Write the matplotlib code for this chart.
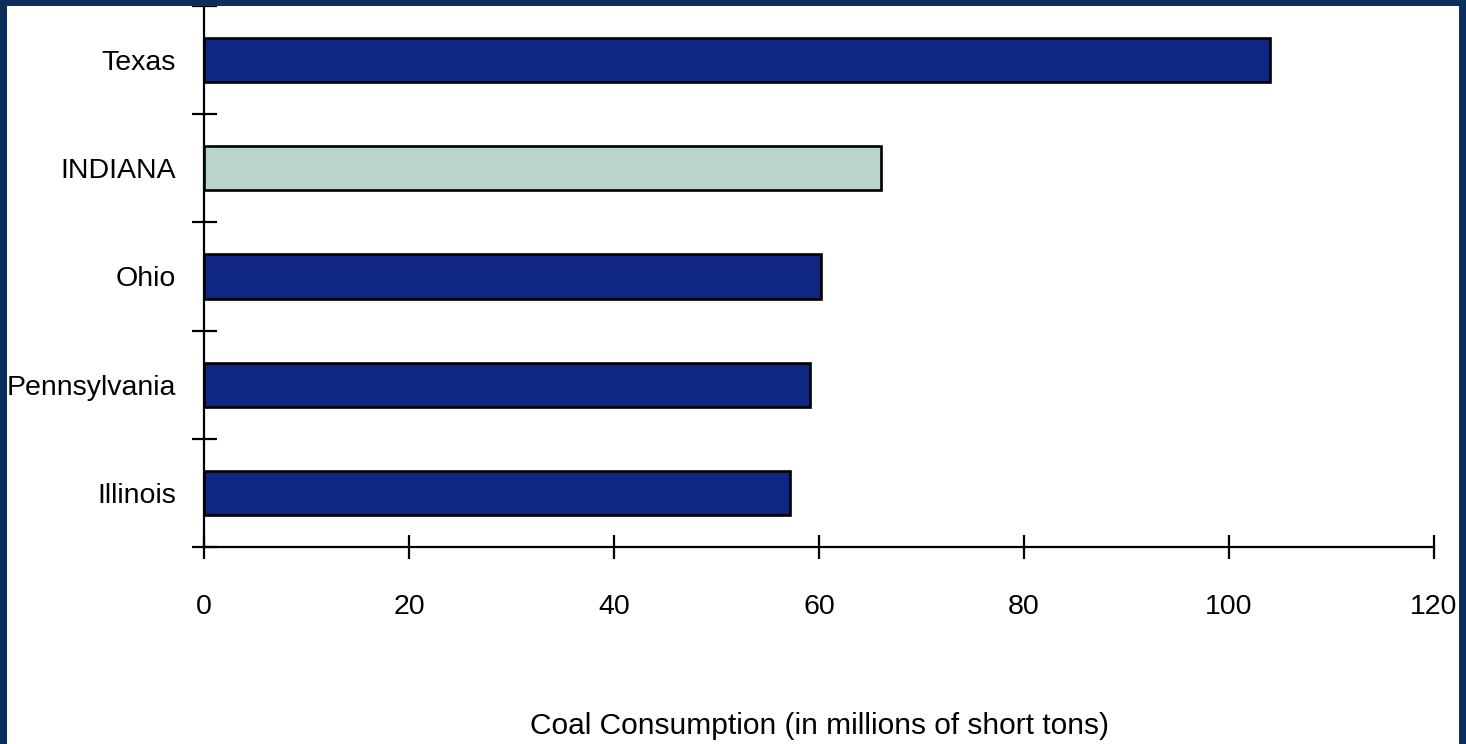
import matplotlib
matplotlib.use("Agg")
import matplotlib.pyplot as plt
from matplotlib.patches import Rectangle
import numpy as np

plt.rcParams['font.family'] = ['Liberation Sans Narrow', 'Liberation Sans', 'DejaVu Sans']

# coal consumption by state, millions of short tons (top to bottom)
states = ['Texas', 'INDIANA', 'Ohio', 'Pennsylvania', 'Illinois']
consumption = [104.0, 66.0, 60.2, 59.1, 57.2]
highlight = 'INDIANA'
x_ticks = [0, 20, 40, 60, 80, 100, 120]

navy = '#0f2683'
mint = '#b9d5c9'
frame = '#0b2f5a'

fig = plt.figure(figsize=(14.66, 7.44), dpi=100)
fig.patch.set_facecolor('white')

# dark frame on left, top and right
for rect in [(0, 0, 7 / 1466, 1), (1459 / 1466, 0, 7 / 1466, 1), (0, 1 - 6 / 744, 1, 6 / 744)]:
    fig.add_artist(Rectangle(rect[:2], rect[2], rect[3], transform=fig.transFigure,
                             facecolor=frame, edgecolor='none', zorder=10))

ax = fig.add_axes([204 / 1466, 1 - 547 / 744, 1230 / 1466, 541 / 744])

ypos = np.arange(len(states))
colors = [mint if s == highlight else navy for s in states]
ax.barh(ypos, consumption, height=0.41, color=colors, edgecolor='black',
        linewidth=1.9, zorder=3)

ax.set_xlim(0, 120)
ax.set_ylim(len(states) - 0.5, -0.5)

for side in ['top', 'right']:
    ax.spines[side].set_visible(False)
for side in ['left', 'bottom']:
    ax.spines[side].set_linewidth(1.6)
    ax.spines[side].set_color('black')

# category boundary ticks on y, labels centred on bars
ax.set_yticks(np.arange(-0.5, len(states), 1.0))
ax.set_yticklabels([])
ax.set_yticks(ypos, minor=True)
ax.set_yticklabels(states, minor=True, fontsize=20.5)
ax.tick_params(axis='y', which='major', direction='inout', length=18, width=1.6)
ax.tick_params(axis='y', which='minor', length=0, pad=20)

ax.set_xticks(x_ticks)
ax.set_xticklabels([str(t) for t in x_ticks], fontsize=20.5)
ax.tick_params(axis='x', direction='inout', length=17, width=1.6, pad=25)

ax.set_xlabel('Coal Consumption (in millions of short tons)', fontsize=21.5)
ax.xaxis.set_label_coords(0.5, -0.33)
ax.xaxis.label.set_va('center')

fig.savefig('out.png', dpi=100)
